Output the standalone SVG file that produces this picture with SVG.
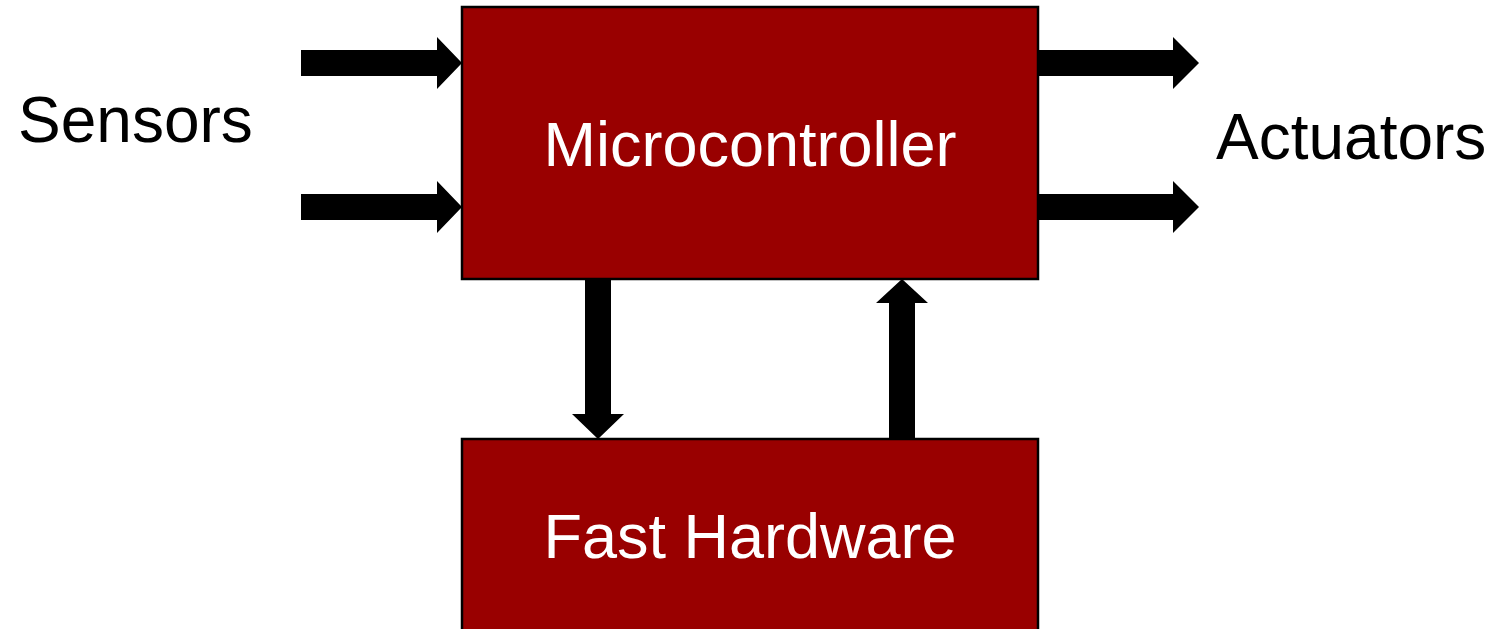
<svg xmlns="http://www.w3.org/2000/svg" width="1496" height="629" viewBox="0 0 1496 629">
<style>
.box{fill:#990000;stroke:#000;stroke-width:2.5}
.arr{fill:#000}
text{font-family:"Liberation Sans",Arial,sans-serif;font-size:63px}
.in{fill:#fff;text-anchor:middle}
.out{fill:#000;font-size:64px}
</style>
<rect width="1496" height="629" fill="#fff"/>
<g id="connectors">
<polygon class="arr" points="301,50 437,50 437,37 462,63 437,89 437,76 301,76"/>
<polygon class="arr" points="301,194 437,194 437,181 462,207 437,233 437,220 301,220"/>
<polygon class="arr" points="1038,50 1173,50 1173,37 1199,63 1173,89 1173,76 1038,76"/>
<polygon class="arr" points="1038,194 1173,194 1173,181 1199,207 1173,233 1173,220 1038,220"/>
<polygon class="arr" points="585,279 611,279 611,414 624,414 598,439 572,414 585,414"/>
<polygon class="arr" points="889,439 915,439 915,303 928,303 902,279 876,303 889,303"/>
</g>
<g id="microcontroller">
<rect class="box" x="462" y="7" width="576" height="272"/>
<text class="in" x="750" y="166">Microcontroller</text>
</g>
<g id="fast-hardware">
<rect class="box" x="462" y="439" width="576" height="200"/>
<text class="in" x="750" y="558">Fast Hardware</text>
</g>
<g id="sensors">
<text class="out" x="18" y="142">Sensors</text>
</g>
<g id="actuators">
<text class="out" x="1216" y="159">Actuators</text>
</g>
</svg>
